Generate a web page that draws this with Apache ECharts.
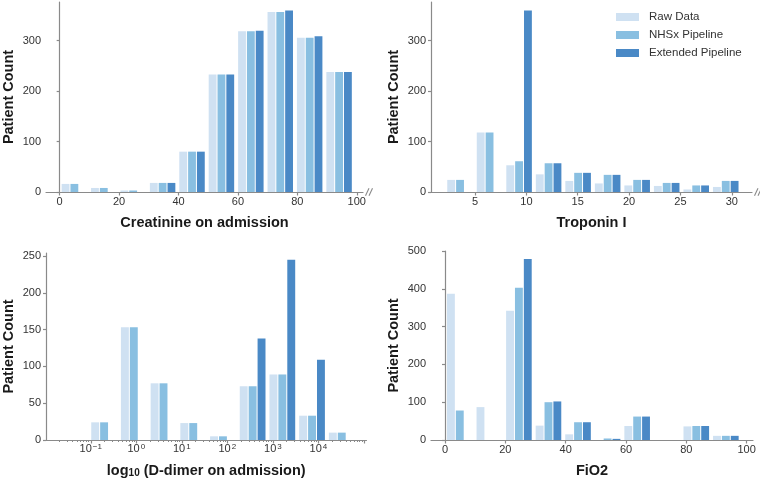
<!DOCTYPE html>
<html><head><meta charset="utf-8">
<script src="https://cdn.jsdelivr.net/npm/echarts@6/dist/echarts.min.js"></script>
<style>html,body{margin:0;padding:0;background:#fff}#c{width:760px;height:479px}</style>
</head><body><div id="c"></div>
<script>
// ---------- DATA ----------
const seriesNames = ['Raw Data', 'NHSx Pipeline', 'Extended Pipeline'];

// Creatinine on admission
const creatEdges = [0, 9.9, 19.8, 29.7, 39.6, 49.5, 59.4, 69.3, 79.2, 89.1, 99];
const creatRaw  = [16, 8, 3, 18, 80, 233, 319, 357, 306, 238];
const creatNHSx = [16, 8, 3, 18, 80, 233, 319, 357, 306, 238];
const creatExt  = [0, 0, 0, 18, 80, 233, 320, 360, 309, 238];
const creatXTicks = [0, 20, 40, 60, 80, 100];
const creatYTicks = [0, 100, 200, 300];

// Troponin I
const tropEdges = [2.1, 4.975, 7.85, 10.725, 13.6, 16.475, 19.35, 22.225, 25.1, 27.975, 30.85];
const tropRaw  = [24, 118, 53, 35, 22, 17, 13, 12, 5, 10];
const tropNHSx = [24, 118, 61, 57, 38, 34, 24, 18, 13, 22];
const tropExt  = [0, 0, 360, 57, 38, 34, 24, 18, 13, 22];
const tropXTicks = [5, 10, 15, 20, 25, 30];
const tropYTicks = [0, 100, 200, 300];

// D-dimer on admission (log bins)
const ddEdges = [0.0927, 0.416, 1.871, 8.40, 37.8, 169.6, 762, 3424, 15380, 69100];
const ddRaw  = [24, 153, 77, 23, 5, 73, 89, 33, 10];
const ddNHSx = [24, 153, 77, 23, 5, 73, 89, 33, 10];
const ddExt  = [0, 0, 0, 0, 0, 138, 245, 109, 0];
const ddMajorTicks = [0.01, 0.1, 1, 10, 100, 1000, 10000, 100000];
const ddLabelTicks = [0.1, 1, 10, 100, 1000, 10000];
const ddYTicks = [0, 50, 100, 150, 200, 250];

// FiO2
const fioEdges = [0, 9.8, 19.6, 29.4, 39.2, 49, 58.8, 68.6, 78.4, 88.2, 98];
const fioRaw  = [387, 87, 342, 38, 15, 0, 37, 0, 36, 11];
const fioNHSx = [78, 0, 403, 100, 47, 4, 62, 0, 37, 11];
const fioExt  = [0, 0, 479, 102, 47, 3, 62, 0, 37, 11];
const fioXTicks = [0, 20, 40, 60, 80, 100];
const fioYTicks = [0, 100, 200, 300, 400, 500];

// ---------- STYLE ----------
const colors = ['#cfe1f2', '#89bfe1', '#4a89c6'];
const FONT = '"Liberation Sans", Arial, Helvetica, sans-serif';
const AX = '#8a8a8a';
const TXT = '#333';
const START = [0.05, 0.35, 0.65], BW = 0.3;

function binBars(edges, counts, k, isLog) {
  const out = [];
  for (let i = 0; i < counts.length; i++) {
    let a = edges[i], b = edges[i + 1];
    if (isLog) { a = Math.log10(a); b = Math.log10(b); }
    const w = b - a;
    let x0 = a + w * START[k], x1 = x0 + w * BW;
    if (isLog) { x0 = Math.pow(10, x0); x1 = Math.pow(10, x1); }
    out.push([x0, x1, counts[i]]);
  }
  return out;
}

function renderBar(color) {
  return function (params, api) {
    const y = api.value(2);
    if (!(y > 0)) return;
    const p = api.coord([api.value(0), y]);
    const q = api.coord([api.value(1), 0]);
    return {
      type: 'rect',
      shape: { x: p[0] + 0.5, y: p[1], width: q[0] - p[0] - 1, height: q[1] - p[1] },
      style: { fill: color }
    };
  };
}

const panels = [
  { edges: creatEdges, vals: [creatRaw, creatNHSx, creatExt], log: false },
  { edges: tropEdges, vals: [tropRaw, tropNHSx, tropExt], log: false },
  { edges: ddEdges, vals: [ddRaw, ddNHSx, ddExt], log: true },
  { edges: fioEdges, vals: [fioRaw, fioNHSx, fioExt], log: false }
];

const grids = [
  { left: 44, top: 2, width: 319, height: 190 },
  { left: 431, top: 2, width: 321, height: 190 },
  { left: 44, top: 253, width: 322.5, height: 187.7 },
  { left: 431, top: 251, width: 322, height: 189.7 }
];

const nameStyle = { fontFamily: FONT, fontSize: 14.5, fontWeight: 'bold', color: '#1a1a1a' };

function xAxisLinear(gi, min, max, ticks, name) {
  return {
    type: 'value', gridIndex: gi, min: min, max: max, position: 'bottom',
    name: name, nameLocation: 'middle', nameGap: 23, nameTextStyle: nameStyle,
    axisLine: { show: true, lineStyle: { color: AX, width: 1.2 } },
    axisTick: { show: true, length: 3.5, customValues: ticks, lineStyle: { color: AX, width: 1.2 } },
    axisLabel: { fontFamily: FONT, fontSize: 11, color: TXT, margin: 4, customValues: ticks },
    splitLine: { show: false }
  };
}
function yAxis(gi, max, ticks) {
  return {
    type: 'value', gridIndex: gi, min: 0, max: max,
    name: 'Patient Count', nameLocation: 'middle', nameGap: 30, nameTextStyle: nameStyle,
    axisLine: { show: true, lineStyle: { color: AX, width: 1.2 } },
    axisTick: { show: true, length: 3, customValues: ticks, lineStyle: { color: AX, width: 1.2 } },
    axisLabel: { fontFamily: FONT, fontSize: 11, color: TXT, margin: 5, customValues: ticks },
    splitLine: { show: false }
  };
}

function supExp(v) {
  const e = Math.round(Math.log10(v));
  return '{b|10}{s|' + (e < 0 ? '\u2212' + (-e) : String(e)) + '}';
}

const xAxes = [
  xAxisLinear(0, -4.6, 102.1, creatXTicks, 'Creatinine on admission'),
  xAxisLinear(1, 0.71, 31.97, tropXTicks, 'Troponin I'),
  {
    type: 'log', logBase: 10, gridIndex: 2, min: Math.pow(10, -1.983), max: Math.pow(10, 5.057), position: 'bottom',
    name: 'log{sub|10} (D-dimer on admission)', nameLocation: 'middle', nameGap: 23,
    nameTextStyle: Object.assign({}, nameStyle, {
      rich: { sub: { fontFamily: FONT, fontSize: 10, fontWeight: 'bold', color: '#1a1a1a', verticalAlign: 'bottom', lineHeight: 10, padding: [6, 0, 0, 0] } }
    }),
    axisLine: { show: true, lineStyle: { color: AX, width: 1.2 } },
    axisTick: { show: true, length: 3.5, customValues: ddMajorTicks, lineStyle: { color: AX, width: 1.2 } },
    axisLabel: {
      margin: 3, customValues: ddLabelTicks, formatter: supExp,
      rich: {
        b: { fontFamily: FONT, fontSize: 11, color: TXT, verticalAlign: 'bottom', lineHeight: 11 },
        s: { fontFamily: FONT, fontSize: 8, color: TXT, verticalAlign: 'top', lineHeight: 8, padding: [0, 0, 7, 1] }
      }
    },
    splitLine: { show: false }
  },
  xAxisLinear(3, -4.64, 102.1, fioXTicks, 'FiO2')
];

// minor ticks for the log axis (2..9 x 10^n)
const ddMinor = [];
ddMajorTicks.forEach(function (d) { for (let m = 2; m <= 9; m++) { const v = d * m; if (v < Math.pow(10, 5.057)) ddMinor.push(v); } });
xAxes.push({
  type: 'log', logBase: 10, gridIndex: 2, min: Math.pow(10, -1.983), max: Math.pow(10, 5.057), position: 'bottom',
  axisLine: { show: false },
  axisTick: { show: true, length: 2, customValues: ddMinor, lineStyle: { color: AX, width: 1 } },
  axisLabel: { show: false }, splitLine: { show: false }
});

const yAxes = [
  yAxis(0, 376.8, creatYTicks),
  yAxis(1, 376.8, tropYTicks),
  yAxis(2, 254, ddYTicks),
  yAxis(3, 500, fioYTicks)
];

const series = [];
panels.forEach(function (p, gi) {
  for (let k = 0; k < 3; k++) {
    series.push({
      type: 'custom', name: seriesNames[k], xAxisIndex: gi, yAxisIndex: gi,
      itemStyle: { color: colors[k] },
      encode: { x: [0, 1], y: 2 },
      renderItem: renderBar(colors[k]),
      data: binBars(p.edges, p.vals[k], k, p.log),
      animation: false, clip: false
    });
  }
});

const chart = echarts.init(document.getElementById('c'), null, { renderer: 'canvas' });
chart.setOption({
  animation: false,
  backgroundColor: '#fff',
  textStyle: { fontFamily: FONT },
  grid: grids,
  xAxis: xAxes,
  yAxis: yAxes,
  legend: {
    data: seriesNames, orient: 'vertical', left: 616, top: 11, padding: 0,
    itemWidth: 23, itemHeight: 8, itemGap: 6, icon: 'rect',
    textStyle: { fontFamily: FONT, fontSize: 11.5, color: TXT, lineHeight: 12, padding: [0, 0, 0, 5] }
  },
  series: series
});

// axis break marks "//" at end of the two top x axes
function breakMarks(gi, xmax) {
  const p = chart.convertToPixel({ xAxisIndex: gi, yAxisIndex: gi }, [xmax, 0]);
  const st = { stroke: AX, lineWidth: 1.1 };
  return [
    { type: 'line', shape: { x1: p[0] + 2.5, y1: p[1] + 3.7, x2: p[0] + 6, y2: p[1] - 3.7 }, style: st },
    { type: 'line', shape: { x1: p[0] + 6, y1: p[1] + 3.7, x2: p[0] + 9.5, y2: p[1] - 3.7 }, style: st }
  ];
}
chart.setOption({ graphic: breakMarks(0, 102.1).concat(breakMarks(1, 31.97)) });
</script>
</body></html>
